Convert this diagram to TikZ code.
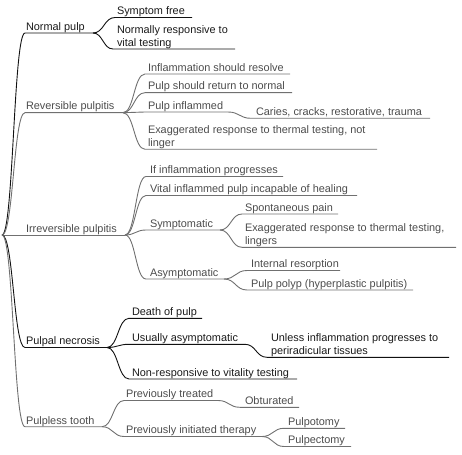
\documentclass[tikz,border=0pt]{standalone}
\usepackage{fontspec}
\setmainfont{Liberation Sans}
\usetikzlibrary{calc}
\definecolor{lineg}{HTML}{707070}
\definecolor{textg}{HTML}{4C4C4C}
\definecolor{lineb}{HTML}{111111}
\definecolor{textb}{HTML}{1A1A1A}
\tikzset{
  lbl/.style={anchor=base west, inner sep=0pt, outer sep=0pt, align=left, font=\fontsize{10.9}{13}\selectfont},
  bl/.style={lbl, text=textb},
  gl/.style={lbl, text=textg},
  bk/.style={draw=lineb, line width=0.9pt},
  gy/.style={draw=lineg, line width=0.9pt},
  cv/.style={to path={.. controls ($(\tikztostart)!0.5!(\tikztotarget|-\tikztostart)$) and ($(\tikztotarget)!0.5!(\tikztostart|-\tikztotarget)$) .. (\tikztotarget)}},
}
\begin{document}
\begin{tikzpicture}[x=1pt,y=-1pt]
\useasboundingbox (0,0) rectangle (462,454);
\coordinate (r) at (2,235);
% ---------- Normal pulp
\coordinate (np0) at (25,33); \coordinate (np1) at (93,33);
\coordinate (npa0) at (115,17.5); \coordinate (npa1) at (192,17.5);
\coordinate (npb0) at (113,49); \coordinate (npb1) at (235,49);
\node[bl] (tnp) at (26,30.3) {Normal pulp};
\node[bl] (tnpa) at (117,14.8) {Symptom free};
\node[bl] (tnpb) at (117,46.3) {Normally responsive to\\vital testing};
\draw[bk] (r) to[cv] (np0) -- (np1);
\draw[bk] (np1) to[cv] (npa0) -- (npa1);
\draw[bk] (np1) to[cv] (npb0) -- (npb1);
% ---------- Reversible pulpitis
\coordinate (rp0) at (25,112.7); \coordinate (rp1) at (123,112.7);
\coordinate (rpa0) at (145,74); \coordinate (rpa1) at (290,74);
\coordinate (rpb0) at (145,92.7); \coordinate (rpb1) at (292,92.7);
\coordinate (rpc0) at (145,112); \coordinate (rpc1) at (228,112);
\coordinate (rpc2) at (251,118.3); \coordinate (rpc3) at (430,118.3);
\coordinate (rpd0) at (145,149.3); \coordinate (rpd1) at (377,149.3);
\node[gl] (trp) at (26,110) {Reversible pulpitis};
\node[gl] (trpa) at (148,71.3) {Inflammation should resolve};
\node[gl] (trpb) at (148,90) {Pulp should return to normal};
\node[gl] (trpc) at (148,109.3) {Pulp inflammed};
\node[gl] (trpc2) at (256,115.6) {Caries, cracks, restorative, trauma};
\node[gl] (trpd) at (148,146.6) {Exaggerated response to thermal testing, not\\linger};
\draw[gy] (r) to[cv] (rp0) -- (rp1);
\draw[gy] (rp1) to[cv] (rpa0) -- (rpa1);
\draw[gy] (rp1) to[cv] (rpb0) -- (rpb1);
\draw[gy] (rp1) to[cv] (rpc0) -- (rpc1) to[cv] (rpc2) -- (rpc3);
\draw[gy] (rp1) to[cv] (rpd0) -- (rpd1);
% ---------- Irreversible pulpitis
\coordinate (ip1) at (125,235);
\coordinate (ipa0) at (146,176.5); \coordinate (ipa1) at (283,176.5);
\coordinate (ipb0) at (146,195.5); \coordinate (ipb1) at (357,195.5);
\coordinate (ipc0) at (146,230); \coordinate (ipc1) at (220,230);
\coordinate (ipc1a0) at (242,214); \coordinate (ipc1a1) at (338,214);
\coordinate (ipc1b0) at (242,247.3); \coordinate (ipc1b1) at (456,247.3);
\coordinate (ipd0) at (146,279); \coordinate (ipd1) at (224,279);
\coordinate (ipd1a0) at (247,270.5); \coordinate (ipd1a1) at (340,270.5);
\coordinate (ipd1b0) at (247,290); \coordinate (ipd1b1) at (413,290);
\node[gl] (tip) at (26,232.3) {Irreversible pulpitis};
\node[gl] (tipa) at (150,173.8) {If inflammation progresses};
\node[gl] (tipb) at (150,192.8) {Vital inflammed pulp incapable of healing};
\node[gl] (tipc) at (150,227.3) {Symptomatic};
\node[gl] (tipc1) at (245,211.3) {Spontaneous pain};
\node[gl] (tipc2) at (245,244.6) {Exaggerated response to thermal testing,\\lingers};
\node[gl] (tipd) at (150,276.3) {Asymptomatic};
\node[gl] (tipd1) at (251,267.8) {Internal resorption};
\node[gl] (tipd2) at (251,287.3) {Pulp polyp (hyperplastic pulpitis)};
\draw[gy] (r) -- (ip1);
\draw[gy] (ip1) to[cv] (ipa0) -- (ipa1);
\draw[gy] (ip1) to[cv] (ipb0) -- (ipb1);
\draw[gy] (ip1) to[cv] (ipc0) -- (ipc1);
\draw[gy] (ip1) to[cv] (ipd0) -- (ipd1);
\draw[gy] (ipc1) to[cv] (ipc1a0) -- (ipc1a1);
\draw[gy] (ipc1) to[cv] (ipc1b0) -- (ipc1b1);
\draw[gy] (ipd1) to[cv] (ipd1a0) -- (ipd1a1);
\draw[gy] (ipd1) to[cv] (ipd1b0) -- (ipd1b1);
% ---------- Pulpal necrosis
\coordinate (pn0) at (25,347.5); \coordinate (pn1) at (107,347.5);
\coordinate (pna0) at (129,318.3); \coordinate (pna1) at (202,318.3);
\coordinate (pnb0) at (129,344.3); \coordinate (pnb1) at (245,344.3);
\coordinate (pnb2) at (267,357.3); \coordinate (pnb3) at (449,357.3);
\coordinate (pnc0) at (129,379); \coordinate (pnc1) at (297,379);
\node[bl] (tpn) at (26,344.8) {Pulpal necrosis};
\node[bl] (tpna) at (132,315.6) {Death of pulp};
\node[bl] (tpnb) at (132,341.6) {Usually asymptomatic};
\node[bl] (tpnb2) at (271,354.6) {Unless inflammation progresses to\\periradicular tissues};
\node[bl] (tpnc) at (132,376.3) {Non-responsive to vitality testing};
\draw[bk] (r) to[cv] (pn0) -- (pn1);
\draw[bk] (pn1) to[cv] (pna0) -- (pna1);
\draw[bk] (pn1) to[cv] (pnb0) -- (pnb1) to[cv] (pnb2) -- (pnb3);
\draw[bk] (pn1) to[cv] (pnc0) -- (pnc1);
% ---------- Pulpless tooth
\coordinate (pt0) at (25,426.7); \coordinate (pt1) at (102,426.7);
\coordinate (pta0) at (124,400.5); \coordinate (pta1) at (218,400.5);
\coordinate (pta2) at (240,407.3); \coordinate (pta3) at (299,407.3);
\coordinate (ptb0) at (124,436.5); \coordinate (ptb1) at (262,436.5);
\coordinate (ptb1a0) at (284,428.3); \coordinate (ptb1a1) at (345,428.3);
\coordinate (ptb1b0) at (284,446.5); \coordinate (ptb1b1) at (351,446.5);
\node[gl] (tpt) at (26,424) {Pulpless tooth};
\node[gl] (tpta) at (126,397.8) {Previously treated};
\node[gl] (tpta2) at (245,404.6) {Obturated};
\node[gl] (tptb) at (126,433.8) {Previously initiated therapy};
\node[gl] (tptb1) at (288,425.6) {Pulpotomy};
\node[gl] (tptb2) at (288,443.8) {Pulpectomy};
\draw[gy] (r) to[cv] (pt0) -- (pt1);
\draw[gy] (pt1) to[cv] (pta0) -- (pta1) to[cv] (pta2) -- (pta3);
\draw[gy] (pt1) to[cv] (ptb0) -- (ptb1);
\draw[gy] (ptb1) to[cv] (ptb1a0) -- (ptb1a1);
\draw[gy] (ptb1) to[cv] (ptb1b0) -- (ptb1b1);
\end{tikzpicture}
\end{document}
